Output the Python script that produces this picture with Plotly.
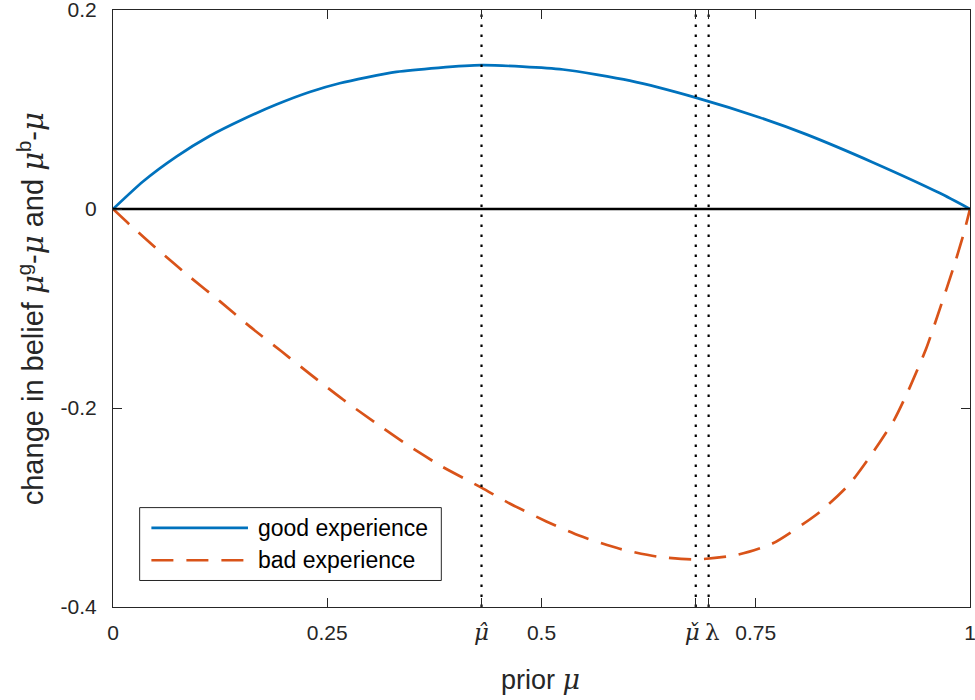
import plotly.graph_objects as go

# ---- data ----
good_mu = [0.0, 0.035, 0.074, 0.1128, 0.1517, 0.1906, 0.2295, 0.2645, 0.3307,
           0.430, 0.525, 0.603, 0.681, 0.7546, 0.809, 0.8868, 0.9646, 1.0]
good_change = [0.0, 0.0277, 0.0527, 0.0734, 0.0902, 0.1050, 0.1176, 0.1264, 0.1378,
               0.1445, 0.1402, 0.1290, 0.1117, 0.0920, 0.0750, 0.0468, 0.0160, 0.0]

bad_mu = [0.0, 0.0195, 0.0545, 0.0895, 0.1245, 0.1595, 0.1965, 0.2315, 0.2684,
          0.3054, 0.3443, 0.3832, 0.4299, 0.4629, 0.5057, 0.5446, 0.5912, 0.636,
          0.6807, 0.7274, 0.770, 0.8246, 0.8596, 0.8868, 0.912, 0.9296, 0.949,
          0.9646, 0.980, 0.9918, 1.0]
bad_change = [0.0, -0.0157, -0.0425, -0.0681, -0.0926, -0.1180, -0.1430, -0.1670, -0.1915,
              -0.2144, -0.2375, -0.2585, -0.2800, -0.2960, -0.3140, -0.3285, -0.3415, -0.3495,
              -0.3522, -0.3478, -0.3360, -0.3046, -0.2762, -0.2445, -0.2111, -0.1795, -0.1400,
              -0.1009, -0.0608, -0.0274, 0.0]

mu_hat = 0.430
mu_check = 0.680
lam = 0.695

x_tickvals = [0, 0.25, mu_hat, 0.5, mu_check, lam, 0.75, 1]
serif = "font-family:'DejaVu Serif'"
big = "font-size:23px"
x_ticktext = ["0", "0.25",
              f"<span style=\"{serif};{big}\"><i>\u03bc\u0302</i></span>",
              "0.5",
              f"<span style=\"{serif};{big}\"><i>\u03bc\u030c</i> </span>",
              f"<span style=\"{serif};{big}\"> \u03bb</span>",
              "0.75", "1"]
y_tickvals = [-0.4, -0.2, 0, 0.2]
y_ticktext = ["-0.4", "-0.2", "0", "0.2"]

BLUE = "#0072BD"
ORANGE = "#D95319"
TXT = "#262626"
FONT = "Liberation Sans, Arial, sans-serif"
MU = f"<span style=\"{serif}\"><i>\u03bc</i></span>"

fig = go.Figure()
fig.add_trace(go.Scatter(x=good_mu, y=good_change, mode="lines", name="good experience",
                         line=dict(color=BLUE, width=2.7, shape="spline", smoothing=0.6),
                         showlegend=False))
fig.add_trace(go.Scatter(x=bad_mu, y=bad_change, mode="lines", name="bad experience",
                         line=dict(color=ORANGE, width=2.7, shape="spline", smoothing=0.6,
                                   dash="22px,13px"),
                         showlegend=False))
fig.add_trace(go.Scatter(x=[0, 1], y=[0, 0], mode="lines", line=dict(color="black", width=2.7),
                         showlegend=False, hoverinfo="skip"))
for v in [mu_hat, mu_check, lam]:
    fig.add_trace(go.Scatter(x=[v, v], y=[-0.4, 0.2], mode="lines",
                             line=dict(color="black", width=2.2, dash="2.5px,7.5px"),
                             showlegend=False, hoverinfo="skip"))

# manual legend (MATLAB-style long sample lines)
fig.add_shape(type="rect", xref="paper", yref="paper", x0=0.0311, x1=0.3831, y0=0.0444, y1=0.1665,
              line=dict(color=TXT, width=1), fillcolor="white", layer="above")
fig.add_shape(type="line", xref="paper", yref="paper", x0=0.0448, x1=0.1575, y0=0.1326, y1=0.1326,
              line=dict(color=BLUE, width=2.7), layer="above")
fig.add_shape(type="line", xref="paper", yref="paper", x0=0.0448, x1=0.1575, y0=0.0783, y1=0.0783,
              line=dict(color=ORANGE, width=2.7, dash="22px,13px"), layer="above")
for yy, txt in [(0.1326, "good experience"), (0.0783, "bad experience")]:
    fig.add_annotation(xref="paper", yref="paper", x=0.1673, y=yy, text=txt, showarrow=False,
                       xanchor="left", yanchor="middle", font=dict(family=FONT, size=23, color="black"))

# axis titles
fig.add_annotation(xref="paper", yref="paper", x=0.499, y=-0.1213, text=f"prior {MU}",
                   showarrow=False, xanchor="center", yanchor="middle",
                   font=dict(family=FONT, size=27, color=TXT))
fig.add_annotation(xref="paper", yref="paper", x=-0.0948, y=0.5, textangle=-90,
                   text=f"change in belief {MU}<sup>g</sup>-{MU} and {MU}<sup>b</sup>-{MU}",
                   showarrow=False, xanchor="center", yanchor="middle",
                   font=dict(family=FONT, size=29, color=TXT))

axis_common = dict(showgrid=False, zeroline=False, showline=True, linecolor=TXT, linewidth=1,
                   mirror="ticks", ticks="inside", ticklen=9, tickcolor=TXT, tickwidth=1,
                   automargin=False, ticklabeloverflow="allow",
                   tickfont=dict(family=FONT, size=21, color=TXT))
fig.update_xaxes(range=[0, 1], tickmode="array", tickvals=x_tickvals, ticktext=x_ticktext,
                 tickangle=0, ticklabelstandoff=7, **axis_common)
fig.update_yaxes(range=[-0.4, 0.2], tickmode="array", tickvals=y_tickvals, ticktext=y_ticktext,
                 ticklabelstandoff=11, **axis_common)

fig.update_layout(width=975, height=700, margin=dict(l=113.3, r=4.5, t=10, b=92.5),
                  plot_bgcolor="white", paper_bgcolor="white", showlegend=False)

fig.write_html("out.html", config={"displayModeBar": False},
               post_script="document.body.style.margin='0';document.body.style.padding='0';")
